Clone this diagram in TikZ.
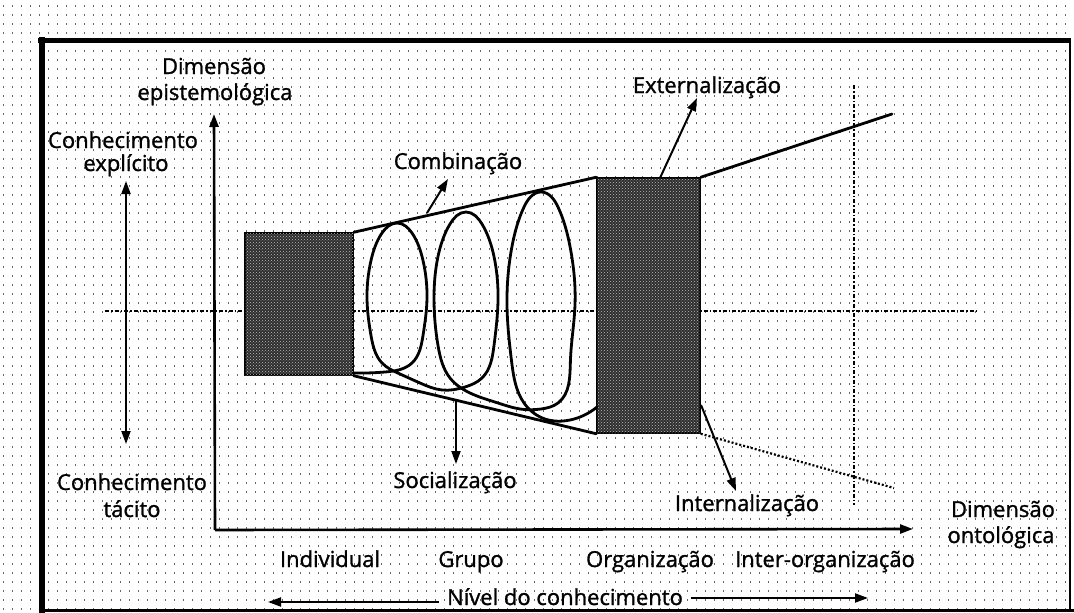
\documentclass[tikz,border=0pt]{standalone}
\usepackage{fontspec}
\setmainfont{Open Sans}
\usetikzlibrary{arrows.meta,patterns,hobby}
\begin{document}
\begin{tikzpicture}[x=1pt,y=-1pt,
  lbl/.style={font=\fontsize{22}{24}\selectfont\addfontfeature{FakeBold=1.2}, inner sep=0pt, anchor=base},
  thk/.style={line width=2.8pt, line cap=round, line join=round},
  arr/.style={line width=2pt,-{Triangle[length=13pt,width=9pt]}},
  darr/.style={line width=2pt,{Triangle[length=13pt,width=9pt]}-{Triangle[length=13pt,width=9pt]}},
  block/.style={draw=black,line width=1.5pt,fill=black!82,inner sep=0pt,
    postaction={pattern=crosshatch dots, pattern color=black!25}},
  dashln/.style={line width=2pt, dash pattern=on 4pt off 2pt on 1.5pt off 2pt},
  dotln/.style={line width=2.2pt, dash pattern=on 2pt off 2pt},
  griddot/.style={black!60, line width=1.4pt, dash pattern=on 1.4pt off 7.6pt}
]
\useasboundingbox (0,0) rectangle (1074,613);
\fill[white] (0,0) rectangle (1074,613);
% dotted background grid
\foreach \yy in {6,15,...,612} \draw[griddot] (3,\yy) -- (1074,\yy);
% frame
\draw[line width=5pt] (38,40) -- (1071,40);
\draw[line width=6pt] (42,37) -- (42,613);
\draw[line width=2pt] (1070,40) -- (1070,611);
\draw[line width=3pt] (40,610) -- (1074,610);

% coordinates
\coordinate (origin) at (215,530);
\coordinate (ytip) at (214,114);
\coordinate (xtip) at (913,529);
\coordinate (cl) at (105,311);
\coordinate (cr) at (977,311);
\coordinate (vt) at (854,85);
\coordinate (vb) at (854,505);

% centre dashed line and vertical dashed line
\draw[dashln] (cl) -- (cr);
\draw[dashln] (vt) -- (vb);

% blocks
\node[block, minimum width=108pt, minimum height=142pt] (L) at (299,304) {};
\node[block, minimum width=103pt, minimum height=255pt] (R) at (648.5,305.5) {};

% cone lines
\coordinate (uend) at (892,114);
\coordinate (lend) at (894,488);
\draw[thk] (L.north east) -- (R.north west);
\draw[thk] (R.north east) -- (uend);
\draw[thk] (L.south east) -- (R.south west);
\draw[dotln] (R.south east) -- (lend);

% spiral
\draw[thk, use Hobby shortcut]
  (353,373) .. (385,372) .. (412,363) .. (423,335.5) .. (427,298) .. (423,260.5)
  .. (412,233) .. (397,223) .. (382,233) .. (371,260.5) .. (367,298) .. (371,335.5)
  .. (382,363) .. (400,374) .. (420,383) .. (442,390) .. (465,387) .. (482,378)
  .. (494,345.5) .. (498,301) .. (494,256.5) .. (482,224) .. (466,212) .. (450,224)
  .. (438,256.5) .. (434,301) .. (438,345.5) .. (450,378) .. (470,393) .. (498,403)
  .. (520,409) .. (541,409) .. (558,403) .. (570.4,361.5) .. (575,305) .. (570.4,248.5)
  .. (558,207) .. (541,192) .. (524,207) .. (511.6,248.5) .. (507,305) .. (511.6,361.5)
  .. (524,403) .. (545,419) .. (570,420) .. (597,407);

% axes
\draw[arr, line width=2.6pt] (origin) -- (ytip);
\draw[arr, line width=2.6pt] (origin) -- (xtip);

% axis labels
\node[lbl] (dimE1) at (214,74) {Dimensão};
\node[lbl] (dimE2) at (215,100) {epistemológica};
\node[lbl] (dimO1) at (1003,517) {Dimensão};
\node[lbl] (dimO2) at (1001,543) {ontológica};

% explicit / tacit
\node[lbl] (ce1) at (123,148) {Conhecimento};
\node[lbl] (ce2) at (126,171) {explícito};
\node[lbl] (ct1) at (132,490) {Conhecimento};
\node[lbl] (ct2) at (132,517) {tácito};
\coordinate (dtop) at (126,181);
\coordinate (dbot) at (126,444);
\draw[darr] (dtop) -- (dbot);

% mode labels and arrows
\node[lbl] (comb) at (458,169) {Combinação};
\node[lbl] (ext) at (707,93) {Externalização};
\node[lbl] (soc) at (455,488) {Socialização};
\node[lbl] (int) at (747,511) {Internalização};
\coordinate (combA) at (427,213);
\coordinate (combB) at (448,179);
\coordinate (extA) at (660,178);
\coordinate (extB) at (697,98);
\coordinate (socA) at (456,400);
\coordinate (socB) at (456,464);
\coordinate (intA) at (701,405);
\coordinate (intB) at (736,491);
\draw[arr] (combA) -- (combB);
\draw[arr] (extA) -- (extB);
\draw[arr] (socA) -- (socB);
\draw[arr] (intA) -- (intB);

% levels
\node[lbl] (ind) at (330,567) {Individual};
\node[lbl] (grp) at (471,567) {Grupo};
\node[lbl] (org) at (650,567) {Organização};
\node[lbl] (inter) at (825,567) {Inter-organização};
\node[lbl] (niv) at (565,605) {Nível do conhecimento};
\coordinate (nl) at (268,602);
\coordinate (nr) at (868,598);
\draw[arr] (niv.west |- 0,602) ++(-8,0) -- (nl);
\draw[arr] (niv.east |- 0,598) ++(8,0) -- (nr);
\end{tikzpicture}
\end{document}
